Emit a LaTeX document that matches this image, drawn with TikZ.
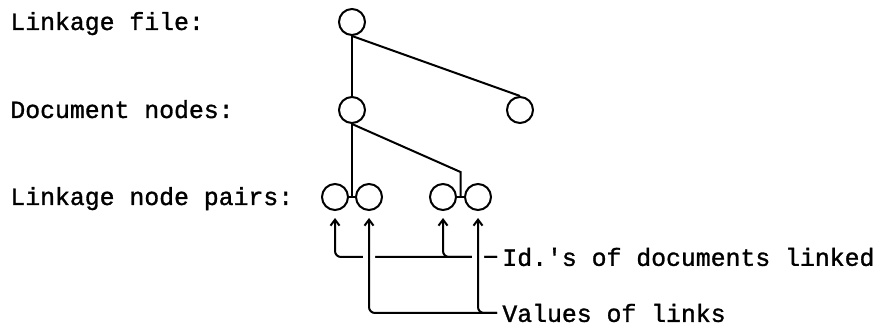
\documentclass[tikz,border=0pt]{standalone}
\usepackage{fontspec}
\setmonofont{Liberation Mono}[BoldFont={Liberation Mono},BoldFeatures={FakeBold=1.2}]
\usetikzlibrary{arrows.meta,calc}

\begin{document}
\begin{tikzpicture}[x=0.5pt, y=-0.5pt,
    font=\ttfamily\bfseries\fontsize{12.4}{15}\selectfont,
    nd/.style={draw, circle, line width=1pt, minimum size=13pt, inner sep=0pt},
    rowlbl/.style={anchor=base west, inner sep=0pt},
    keylbl/.style={anchor=west, inner xsep=2.5pt, inner ysep=0pt},
    ln/.style={line width=1pt},
    arr/.style={ln, rounded corners=3pt, -{Straight Barb[length=3pt,width=4.5pt]}, shorten >=3.5pt},
    halo/.style={draw=white, line width=6pt, rounded corners=3pt, shorten >=3.5pt}
  ]
  \useasboundingbox (0,0) rectangle (877,324);
  \node[rowlbl] (rfile) at (10,30) {Linkage file:};
  \node[rowlbl] (rdoc) at (10,118) {Document nodes:};
  \node[rowlbl] (rpair) at (10,205) {Linkage node pairs:};

  \node[nd] (lf) at (352,22) {};
  \node[nd] (dl) at (352,110) {};
  \node[nd] (dr) at (520,110) {};
  \node[nd] (p1a) at (335,197) {};
  \node[nd] (p1b) at (369,197) {};
  \node[nd] (p2a) at (443,197) {};
  \node[nd] (p2b) at (478,197) {};
  \coordinate (j1) at ($(p1a)!0.5!(p1b)$);
  \coordinate (j2) at ($(p2a)!0.5!(p2b)$);
  \coordinate (k2) at ($(j2)+(0,-25)$);

  \node[keylbl] (idl) at (497,257) {Id.'s of documents linked};
  \node[keylbl] (vl) at (497,313) {Values of links};

  \draw[ln] (lf.south) -- (dl.north);
  \draw[ln] (lf.south) -- (dr.north);
  \draw[ln] (dl.south) -- (j1);
  \draw[ln] (dl.south) -- (k2) -- (j2);
  \draw[ln] (p1a.east) -- (p1b.west);
  \draw[ln] (p2a.east) -- (p2b.west);

  \draw[arr] (idl.west) -| (p1a.south);
  \draw[arr] (idl.west) -| (p2a.south);
  \foreach \p in {p1b,p2b}
    \draw[halo] (vl.west) -| (\p.south);
  \foreach \p in {p1b,p2b}
    \draw[arr] (vl.west) -| (\p.south);
\end{tikzpicture}
\end{document}
